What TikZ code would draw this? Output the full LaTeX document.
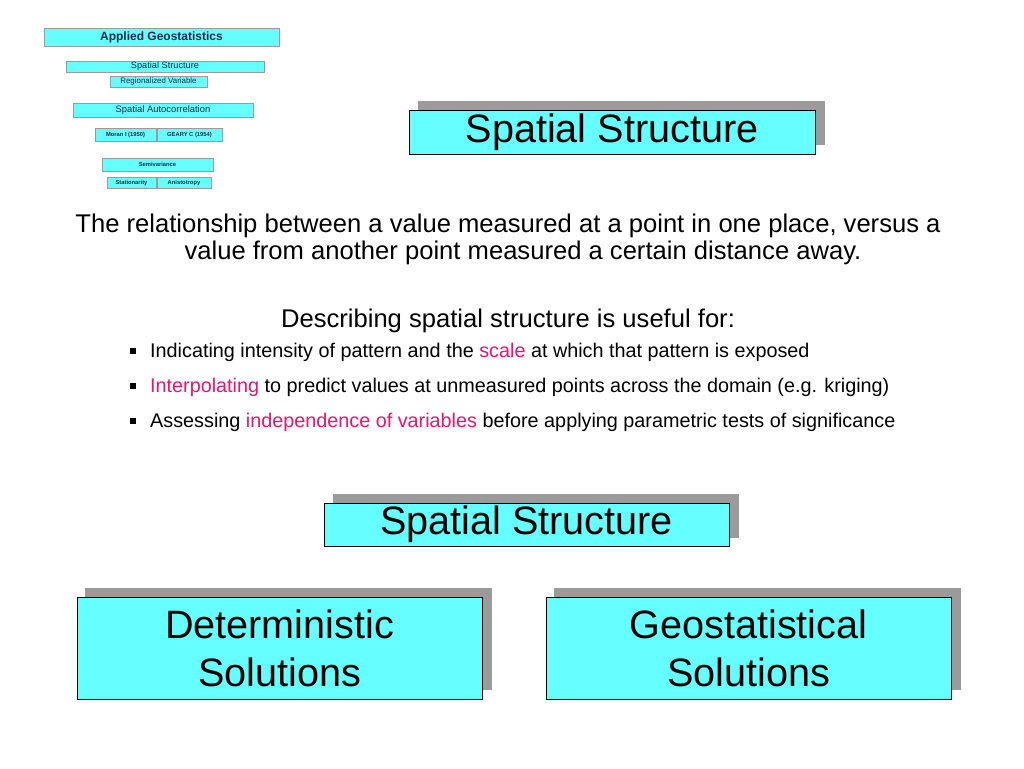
\documentclass[tikz,border=0pt]{standalone}
\usepackage{fontspec}
\setmainfont{Liberation Sans}
\definecolor{boxcyan}{RGB}{102,255,255}
\definecolor{shadowgray}{RGB}{155,155,155}
\definecolor{hotpink}{RGB}{232,20,110}
\definecolor{thumbtext}{RGB}{40,40,70}
\tikzset{
  bigbox/.style={draw=black, line width=0.8pt, fill=boxcyan, inner sep=0pt, align=center, font=\fontsize{39.6}{48}\selectfont},
  shadowbox/.style={fill=shadowgray, inner sep=0pt},
  thumbshadow/.style={fill=shadowgray, inner sep=0pt},
  thumb/.style={fill=boxcyan, draw=shadowgray, line width=0.8pt, inner sep=0pt, text=thumbtext},
  bodytext/.style={inner sep=0pt, font=\fontsize{25.6}{28}\selectfont},
  bullettext/.style={inner sep=0pt, anchor=base west, font=\fontsize{19.8}{22}\selectfont},
  bulletsq/.style={fill=black, inner sep=0pt, minimum size=5.5pt}
}
\begin{document}
\begin{tikzpicture}[x=1pt,y=-1pt]
\useasboundingbox (0,0) rectangle (1024,768);
% thumbnail
\node[thumb, minimum width=235pt, minimum height=18pt, font=\fontsize{12}{14}\bfseries] (ag) at (161.5,37) {Applied Geostatistics};
\node[thumb, minimum width=198pt, minimum height=11pt, font=\fontsize{9.2}{11}\selectfont] (ss0) at (165,66.5) {Spatial Structure};
\node[thumb, minimum width=97pt, minimum height=11pt, font=\fontsize{7.9}{9}\selectfont] (rv) at (158.5,81.5) {Regionalized Variable};
\node[thumb, minimum width=180pt, minimum height=14pt, font=\fontsize{9.4}{11}\selectfont] (sa) at (163,110) {Spatial Autocorrelation};
\node[thumb, minimum width=61pt, minimum height=13pt, font=\fontsize{5.8}{7}\bfseries] (mo) at (125.5,134.5) {Moran I (1950)};
\node[thumb, minimum width=65pt, minimum height=13pt, font=\fontsize{5.8}{7}\bfseries] (ge) at (189.5,134.5) {GEARY C (1954)};
\node[thumb, minimum width=111pt, minimum height=13pt, font=\fontsize{5.8}{7}\bfseries] (sv) at (157.5,164.5) {Semivariance};
\node[thumb, minimum width=49pt, minimum height=11pt, font=\fontsize{5.8}{7}\bfseries] (st) at (131.5,182.5) {Stationarity};
\node[thumb, minimum width=54pt, minimum height=11pt, font=\fontsize{5.8}{7}\bfseries] (an) at (184,182.5) {Anistotropy};
% top title
\node[shadowbox, minimum width=407pt, minimum height=44pt] (t1s) at (621.5,123) {};
\node[bigbox, minimum width=406pt, minimum height=44pt] (t1) at (612,132) {Spatial Structure};
% body
\node[bodytext, anchor=base] (l1) at (508,232) {The relationship between a value measured at a point in one place, versus a};
\node[bodytext, anchor=base] (l2) at (523,259) {value from another point measured a certain distance away.};
\node[bodytext, anchor=base] (l3) at (508,327) {Describing spatial structure is useful for:};
\node[bulletsq] (b1) at (133,351) {};
\node[bullettext] (t1b) at (150,357) {Indicating intensity of pattern and the \textcolor{hotpink}{scale} at which that pattern is exposed};
\node[bulletsq] (b2) at (133,386) {};
\node[bullettext] (t2b) at (150,392) {\textcolor{hotpink}{Interpolating} to predict values at unmeasured points across the domain (e.g. kriging)};
\node[bulletsq] (b3) at (133,421) {};
\node[bullettext] (t3b) at (150,427) {Assessing \textcolor{hotpink}{independence of variables} before applying parametric tests of significance};
% middle title
\node[shadowbox, minimum width=406pt, minimum height=44pt] (t2s) at (536,516) {};
\node[bigbox, minimum width=405pt, minimum height=43pt] (t2) at (526.5,524.5) {Spatial Structure};
% bottom boxes
\node[shadowbox, minimum width=407pt, minimum height=102pt] (dets) at (288.5,639) {};
\node[bigbox, minimum width=405pt, minimum height=102pt] (det) at (279.5,648) {Deterministic\\Solutions};
\node[shadowbox, minimum width=407pt, minimum height=102pt] (geos) at (757.5,639) {};
\node[bigbox, minimum width=405pt, minimum height=102pt] (geo) at (748.5,648) {Geostatistical\\Solutions};
\end{tikzpicture}
\end{document}
